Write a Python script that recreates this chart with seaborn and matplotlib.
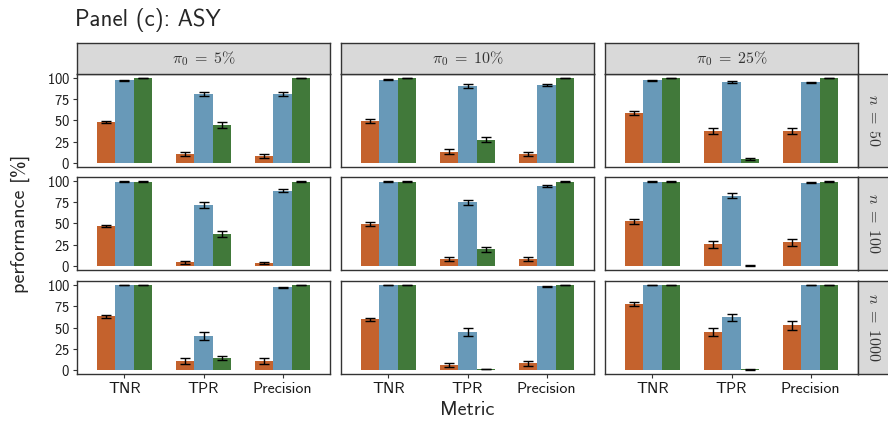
import pandas as pd
import seaborn as sns
import matplotlib.pyplot as plt

metrics = ["TNR", "TPR", "Precision"]
pi0_levels = ["5", "10", "25"]
n_levels = ["50", "100", "1000"]
methods = ["M1", "M2", "M3"]
colors = ["#C4622D", "#6899B8", "#41793A"]

# values in % ; nesting: n -> pi0 -> metric
m1_mean = [
    [[48.2, 10.6, 8.2], [49.4, 12.9, 10.6], [58.8, 37.6, 37.6]],
    [[46.7, 4.3, 3.1], [49.0, 7.8, 7.8], [52.5, 25.5, 27.8]],
    [[63.4, 10.2, 10.2], [59.8, 5.5, 7.9], [77.6, 44.5, 52.8]],
]
m1_err = [
    [[1.5, 2.0, 2.0], [2.0, 3.0, 2.0], [2.5, 3.3, 3.3]],
    [[1.3, 1.8, 1.5], [2.3, 2.4, 2.2], [3.0, 3.9, 3.9]],
    [[1.8, 3.3, 3.3], [2.0, 2.4, 3.0], [2.6, 4.5, 5.3]],
]
m2_mean = [
    [[97.6, 81.2, 81.2], [98.4, 90.6, 91.8], [97.6, 95.3, 95.3]],
    [[99.6, 71.4, 89.0], [99.6, 74.9, 94.9], [99.6, 83.1, 98.4]],
    [[100.0, 39.8, 97.6], [100.0, 44.5, 98.8], [100.0, 62.2, 100.0]],
]
m2_err = [
    [[0.5, 2.7, 2.5], [0.4, 2.0, 1.4], [0.5, 1.5, 0.8]],
    [[0.3, 3.5, 1.8], [0.3, 3.3, 1.2], [0.3, 2.7, 0.4]],
    [[0.2, 5.0, 0.8], [0.2, 5.0, 0.5], [0.2, 4.0, 0.2]],
]
m3_mean = [
    [[100.0, 44.7, 100.0], [100.0, 27.0, 100.0], [100.0, 4.7, 100.0]],
    [[99.6, 37.3, 99.6], [99.6, 19.6, 99.6], [99.6, 0.2, 99.6]],
    [[100.0, 13.8, 100.0], [100.0, 0.8, 100.0], [100.0, 0.4, 100.0]],
]
m3_err = [
    [[0.3, 3.3, 0.3], [0.3, 3.0, 0.3], [0.3, 1.5, 0.3]],
    [[0.3, 3.3, 0.3], [0.3, 3.0, 0.3], [0.3, 0.2, 0.3]],
    [[0.2, 2.0, 0.2], [0.2, 0.3, 0.2], [0.2, 0.2, 0.2]],
]

rows = []
for method, means, errs in zip(methods, [m1_mean, m2_mean, m3_mean], [m1_err, m2_err, m3_err]):
    for i, n in enumerate(n_levels):
        for j, pi0 in enumerate(pi0_levels):
            for k, metric in enumerate(metrics):
                rows.append({"n": n, "pi0": pi0, "metric": metric, "method": method,
                             "perf": means[i][j][k], "err": errs[i][j][k]})
df = pd.DataFrame(rows)

sns.set_style("white")
plt.rcParams["font.family"] = ["cmss10", "DejaVu Sans"]
plt.rcParams["mathtext.fontset"] = "cm"
plt.rcParams["axes.unicode_minus"] = False
plt.rcParams["axes.formatter.use_mathtext"] = True

W, H = 888, 422
fig = plt.figure(figsize=(W / 100, H / 100), dpi=100)

col_x = [77, 341, 605]
row_y = [74, 177, 281]
pw, ph = 253, 93
frame = "#333333"
strip_bg = "#D9D9D9"


def rect(x, y, w, h):
    return [x / W, 1 - (y + h) / H, w / W, h / H]


for i, n in enumerate(n_levels):
    for j, pi0 in enumerate(pi0_levels):
        ax = fig.add_axes(rect(col_x[j], row_y[i], pw, ph))
        sub = df[(df["n"] == n) & (df["pi0"] == pi0)]
        sns.barplot(data=sub, x="metric", y="perf", hue="method", order=metrics,
                    hue_order=methods, palette=colors, saturation=1, width=0.7,
                    linewidth=0, errorbar=None, legend=False, ax=ax)
        for container, method in zip(ax.containers, methods):
            for bar in container:
                xc = bar.get_x() + bar.get_width() / 2
                metric = metrics[int(round(xc))]
                r = sub[(sub["method"] == method) & (sub["metric"] == metric)].iloc[0]
                ax.errorbar(xc, r["perf"], yerr=r["err"], color="black", lw=1.0,
                            capsize=3.3, capthick=1.0)
        ax.set_xlim(-0.6, 2.6)
        ax.set_ylim(-5, 105)
        ax.set_xlabel("")
        ax.set_ylabel("")
        for s in ax.spines.values():
            s.set_color(frame)
            s.set_linewidth(1.0)
        ax.tick_params(colors=frame, length=3, width=0.8, labelcolor="#1a1a1a")
        if j == 0:
            ax.set_yticks([0, 25, 50, 75, 100])
            ax.tick_params(axis="y", labelsize=10.5, pad=2, left=True)
        else:
            ax.set_yticks([])
        if i == 2:
            ax.tick_params(axis="x", labelsize=11.5, pad=3, bottom=True)
        else:
            ax.set_xticks([])

# top strips
for j, pi0 in enumerate(pi0_levels):
    sax = fig.add_axes(rect(col_x[j], 43, pw, 31))
    sax.set_facecolor(strip_bg)
    sax.set_xticks([])
    sax.set_yticks([])
    for s in sax.spines.values():
        s.set_color(frame)
        s.set_linewidth(1.0)
    sax.text(0.5, 0.5, r"$\pi_0 \;=\; %s\%%$" % pi0, ha="center", va="center",
             fontsize=11.5, color="#333333", transform=sax.transAxes)

# right strips
for i, n in enumerate(n_levels):
    sax = fig.add_axes(rect(858, row_y[i], 31, ph))
    sax.set_facecolor(strip_bg)
    sax.set_xticks([])
    sax.set_yticks([])
    for s in sax.spines.values():
        s.set_color(frame)
        s.set_linewidth(1.0)
    sax.text(0.5, 0.5, r"$n \;=\; %s$" % n, ha="center", va="center", rotation=-90,
             fontsize=11.5, color="#333333", transform=sax.transAxes)

fig.text(75 / W, 1 - 20 / H, "Panel (c): ASY", ha="left", va="center", fontsize=16.5)
fig.text(20 / W, 1 - 224 / H, "performance [%]", ha="center", va="center",
         rotation=90, fontsize=14.5)
fig.text(467 / W, 1 - 410 / H, "Metric", ha="center", va="center", fontsize=14.5)

fig.savefig("out.png", dpi=100)
